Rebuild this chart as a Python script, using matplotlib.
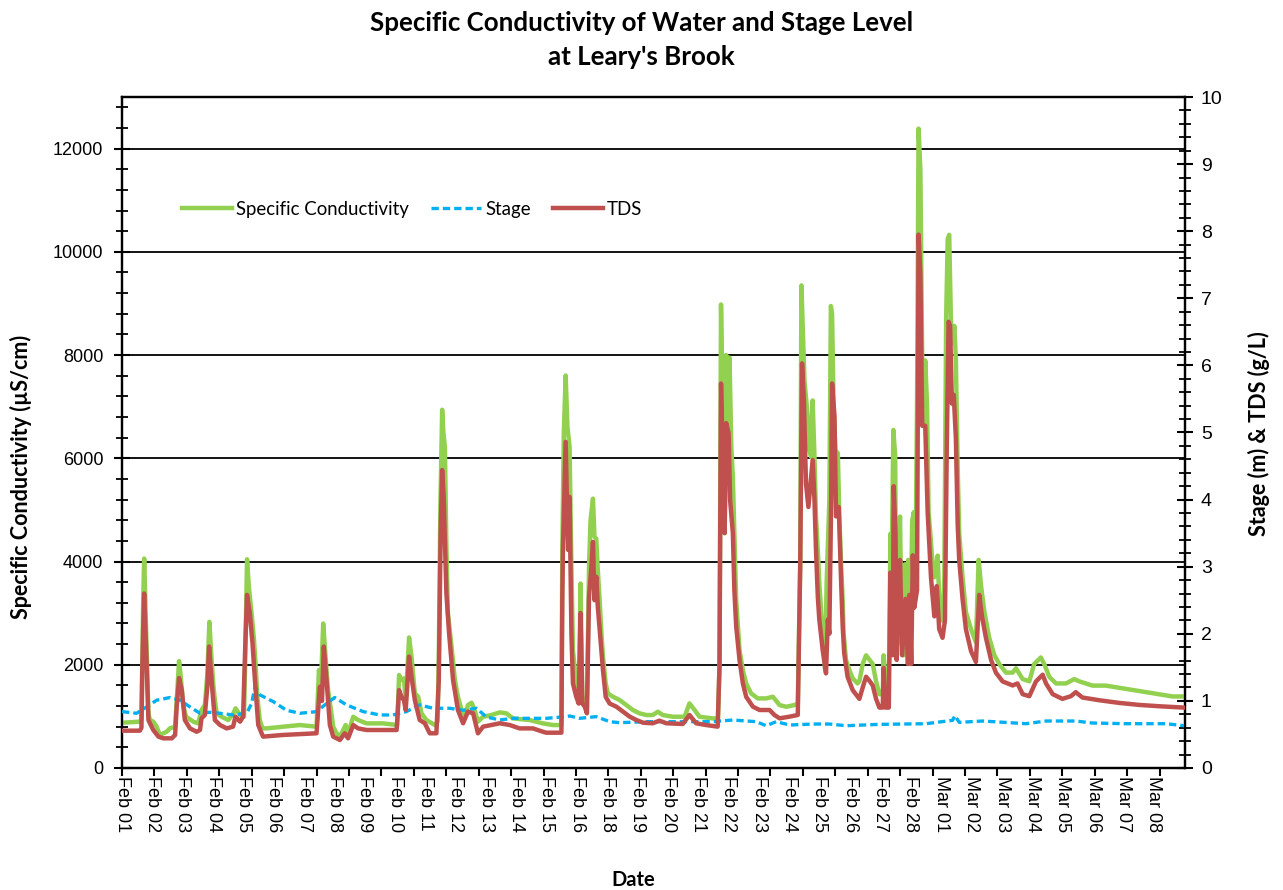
import matplotlib
matplotlib.use('Agg')
import matplotlib.pyplot as plt
from matplotlib.ticker import MultipleLocator, FixedLocator, NullFormatter

# x = position on the chart's date scale (0 = "Feb 01" label, 1 = next label, ...)
sc_day = [0, 0.59, 0.64, 0.70, 0.73, 0.77, 0.81, 0.87, 0.92, 1.03, 1.14, 1.25, 1.36, 1.47, 1.58,
          1.75, 1.80, 1.88, 1.93, 2.02, 2.11, 2.35, 2.51, 2.62, 2.73, 2.81, 2.88, 2.93, 3.01, 3.06,
          3.12, 3.28, 3.50, 3.67, 3.74, 3.89, 4.02, 4.07, 4.12, 4.18, 4.27, 4.35, 4.40, 4.46, 4.54,
          4.63, 4.77, 5.31, 5.86, 6.41, 6.49, 6.55, 6.63, 6.69, 6.79, 6.87, 6.96, 7.07, 7.18, 7.37,
          7.45, 7.62, 7.78, 8.06, 8.60, 9.07, 9.13, 9.21, 9.29, 9.35, 9.46, 9.54, 9.65, 9.76, 9.87,
          10.03, 10.31, 10.40, 10.44, 10.49, 10.55, 10.59, 10.64, 10.69, 10.74, 10.86, 10.97, 11.07,
          11.19, 11.29, 11.40, 11.52, 11.62, 11.73, 11.90, 12.17, 12.45, 12.67, 12.88, 13.43, 13.87,
          14.20, 14.48, 14.51, 14.56, 14.62, 14.68, 14.75, 14.81, 14.86, 14.97, 15.06, 15.11, 15.17,
          15.25, 15.32, 15.39, 15.44, 15.52, 15.57, 15.63, 15.68, 15.74, 15.80, 15.85, 15.94, 16.01,
          16.18, 16.40, 16.62, 16.84, 17.06, 17.28, 17.49, 17.66, 17.82, 18.15, 18.54, 18.70, 18.87,
          19.03, 19.47, 19.64, 19.69, 19.74, 19.81, 19.86, 19.91, 19.95, 20.02, 20.08, 20.13, 20.18,
          20.24, 20.35, 20.46, 20.57, 20.73, 20.95, 21.23, 21.45, 21.67, 21.89, 22.16, 22.27, 22.35,
          22.39, 22.43, 22.49, 22.60, 22.65, 22.71, 22.76, 22.82, 22.87, 22.93, 22.98, 23.09, 23.17,
          23.22, 23.31, 23.36, 23.40, 23.45, 23.51, 23.59, 23.64, 23.70, 23.75, 23.78, 23.86, 23.97,
          24.08, 24.24, 24.30, 24.41, 24.52, 24.63, 24.74, 24.85, 24.96, 25.07, 25.10, 25.16, 25.23,
          25.29, 25.32, 25.36, 25.42, 25.48, 25.51, 25.54, 25.58, 25.64, 25.69, 25.75, 25.81, 25.86,
          25.91, 25.97, 26.04, 26.09, 26.14, 26.20, 26.25, 26.31, 26.37, 26.42, 26.47, 26.53, 26.58,
          26.64, 26.69, 26.77, 26.83, 26.88, 26.93, 26.99, 27.04, 27.10, 27.16, 27.21, 27.26, 27.32,
          27.37, 27.43, 27.48, 27.54, 27.59, 27.70, 27.81, 27.98, 28.14, 28.23, 28.31, 28.42, 28.58,
          28.75, 28.91, 29.13, 29.35, 29.46, 29.68, 29.90, 30.06, 30.28, 30.39, 30.56, 30.78, 31.11,
          31.38, 31.54, 31.98, 32.42, 32.86, 33.30, 33.74, 34.18, 34.62, 35.00]
sc_val = [877, 897, 950, 3300, 4057, 3200, 2412, 1058, 929, 897, 800, 639, 671, 703, 768,
          800, 1300, 2070, 1800, 1200, 993, 897, 864, 1122, 1219, 1800, 2832, 2300, 1600, 1316,
          1058, 993, 929, 1058, 1155, 1026, 993, 2400, 4044, 3509, 2993, 2477, 2025, 1380, 929,
          768, 768, 800, 832, 800, 1896, 1500, 2799, 2300, 1500, 1187, 800, 671, 606, 832,
          671, 993, 929, 864, 864, 832, 1800, 1703, 1735, 1300, 2528, 2154, 1445, 1380, 1058,
          929, 832, 900, 2154, 5000, 6940, 6500, 6218, 4283, 2993, 2348, 1703, 1380,
          1122, 993, 1219, 1264, 1122, 897, 993, 1026, 1077, 1058, 961, 929, 864,
          832, 832, 4218, 6500, 7605, 6600, 6218, 3896, 2283, 1638, 1380, 3573, 1380,
          1251, 1122, 3896, 4799, 5218, 4476, 4444, 3831, 3251, 2606, 2154, 1638, 1445,
          1380, 1316, 1219, 1122, 1058, 1026, 1026, 1090, 1026, 993, 993, 1251, 1122,
          993, 961, 961, 2000, 8980, 6500, 4550, 8000, 6600, 7950, 6200, 5637, 4541,
          3251, 2283, 1896, 1638, 1445, 1348, 1348, 1380, 1219, 1186, 1219, 1251, 4000,
          9350, 8600, 7500, 6798, 6153, 6024, 7121, 6024, 4863, 4218, 3573, 2606, 1896,
          3573, 5186, 8950, 8800, 7000, 6153, 6100, 4863, 3896, 3251, 2606, 2090, 1896,
          1735, 1638, 1680, 2015, 2183, 2100, 2015, 1680, 1428, 1428, 2183, 1428, 1344,
          2267, 4535, 3695, 6550, 6047, 2855, 2183, 4115, 4871, 2435, 2183, 3947, 2183,
          4031, 2015, 4787, 4955, 3275, 7054, 12387, 11589, 7894, 6634, 7894, 7054, 4955,
          4535, 4115, 3695, 3863, 4115, 3275, 3023, 2855, 3695, 8734, 10246, 10330, 8566,
          8230, 8566, 7894, 5795, 4535, 3695, 3023, 2687, 2435, 4031, 3527, 3023, 2519,
          2183, 2015, 1848, 1848, 1932, 1722, 1680, 2015, 2141, 2015, 1764, 1638, 1638,
          1722, 1680, 1596, 1596, 1554, 1512, 1470, 1428, 1386, 1386]

tds_day = [0, 0.59, 0.64, 0.67, 0.70, 0.73, 0.77, 0.81, 0.87, 0.92, 1.03, 1.20, 1.36, 1.64, 1.75,
           1.80, 1.88, 1.97, 2.07, 2.24, 2.46, 2.57, 2.62, 2.73, 2.81, 2.87, 2.95, 3.06, 3.23, 3.45,
           3.66, 3.74, 3.89, 3.99, 4.06, 4.12, 4.21, 4.30, 4.38, 4.49, 4.60, 4.65, 5.30, 6.41, 6.52,
           6.59, 6.65, 6.74, 6.85, 6.96, 7.18, 7.34, 7.45, 7.62, 7.78, 8.06, 8.60, 9.05, 9.13, 9.21,
           9.29, 9.35, 9.46, 9.54, 9.65, 9.81, 9.98, 10.14, 10.36, 10.44, 10.50, 10.55, 10.60, 10.69,
           10.78, 10.91, 11.07, 11.24, 11.40, 11.57, 11.73, 11.90, 12.17, 12.45, 12.78, 13.10, 13.54,
           13.87, 13.98, 14.48, 14.51, 14.53, 14.62, 14.70, 14.75, 14.81, 14.86, 14.97, 15.05, 15.11,
           15.17, 15.25, 15.32, 15.39, 15.47, 15.52, 15.57, 15.63, 15.68, 15.76, 15.85, 15.94, 16.07,
           16.29, 16.51, 16.73, 16.95, 17.17, 17.49, 17.71, 17.94, 18.48, 18.70, 18.92, 19.25, 19.63,
           19.69, 19.74, 19.81, 19.86, 19.91, 19.99, 20.04, 20.13, 20.18, 20.24, 20.35, 20.46, 20.57,
           20.79, 21.01, 21.34, 21.50, 21.67, 22.00, 22.27, 22.35, 22.41, 22.47, 22.54, 22.62, 22.69,
           22.76, 22.82, 22.87, 22.93, 22.98, 23.09, 23.20, 23.26, 23.31, 23.37, 23.40, 23.48, 23.53,
           23.62, 23.70, 23.75, 23.80, 23.91, 24.08, 24.30, 24.41, 24.52, 24.63, 24.74, 24.85, 24.96,
           25.07, 25.10, 25.16, 25.27, 25.32, 25.40, 25.43, 25.49, 25.53, 25.58, 25.64, 25.71, 25.82,
           25.90, 25.95, 26.01, 26.06, 26.11, 26.20, 26.25, 26.31, 26.37, 26.47, 26.55, 26.66, 26.77,
           26.85, 26.93, 27.04, 27.12, 27.18, 27.24, 27.29, 27.35, 27.41, 27.48, 27.54, 27.59, 27.70,
           27.81, 27.98, 28.14, 28.25, 28.34, 28.47, 28.64, 28.80, 29.02, 29.35, 29.51, 29.68, 29.90,
           30.12, 30.34, 30.45, 30.67, 30.99, 31.27, 31.43, 31.65, 32.20, 32.86, 33.52, 34.18, 35.00]
tds_val = [0.556, 0.556, 0.60, 1.50, 2.11, 2.60, 2.10, 1.56, 0.715, 0.666, 0.566, 0.467, 0.442, 0.442, 0.492,
           0.90, 1.34, 1.16, 0.715, 0.59, 0.54, 0.566, 0.74, 0.79, 1.20, 1.81, 1.31, 0.715, 0.64, 0.59,
           0.616, 0.765, 0.69, 0.765, 1.80, 2.58, 2.31, 1.86, 1.31, 0.64, 0.517, 0.467, 0.492, 0.517, 1.21,
           1.00, 1.81, 1.31, 0.64, 0.467, 0.417, 0.517, 0.442, 0.64, 0.59, 0.566, 0.566, 0.566, 1.16, 1.06,
           1.01, 0.864, 1.66, 1.36, 1.01, 0.715, 0.666, 0.517, 0.517, 1.31, 3.50, 4.44, 4.04, 2.60,
           2.00, 1.31, 0.864, 0.666, 0.84, 0.815, 0.517, 0.616, 0.64, 0.666, 0.64, 0.59, 0.59,
           0.54, 0.526, 0.526, 2.50, 3.25, 4.86, 3.25, 4.04, 2.00, 1.26, 1.06, 0.96, 2.31,
           0.96, 0.914, 0.815, 2.55, 3.00, 3.37, 2.50, 2.85, 2.40, 1.96, 1.46, 1.06, 0.96,
           0.914, 0.84, 0.765, 0.715, 0.675, 0.666, 0.705, 0.666, 0.656, 0.79, 0.666, 0.64, 0.616,
           1.50, 5.73, 4.40, 3.50, 5.14, 4.99, 3.99, 3.50, 2.65, 2.11, 1.61, 1.26, 1.06,
           0.914, 0.864, 0.864, 0.79, 0.74, 0.765, 0.79, 3.00, 6.03, 5.50, 4.24, 3.89, 4.24,
           4.59, 3.99, 3.25, 2.55, 2.21, 1.76, 1.41, 2.21, 2.00, 3.99, 5.73, 5.24, 3.75,
           3.89, 2.75, 2.11, 1.71, 1.36, 1.16, 1.03, 1.20, 1.36, 1.30, 1.23, 1.03, 0.90,
           0.90, 1.49, 0.90, 0.90, 2.91, 1.68, 4.20, 3.49, 1.61, 2.65, 3.10, 1.68, 2.52,
           1.55, 2.58, 1.55, 3.17, 2.39, 2.65, 7.95, 7.36, 5.10, 5.10, 3.81, 2.84, 2.26,
           2.71, 2.07, 1.94, 2.20, 4.78, 6.65, 6.59, 5.43, 5.56, 4.91, 3.62, 3.10, 2.52,
           2.07, 1.74, 1.58, 2.58, 2.26, 1.94, 1.61, 1.42, 1.29, 1.23, 1.26, 1.10, 1.07,
           1.29, 1.39, 1.26, 1.10, 1.03, 1.07, 1.13, 1.05, 1.01, 0.97, 0.94, 0.92, 0.90]

stage_day = [0, 0.48, 0.81, 1.14, 1.58, 1.91, 2.24, 2.57, 2.90, 3.23, 3.66, 4.11, 4.27, 4.38, 4.54,
             4.98, 5.42, 5.86, 6.41, 6.74, 7.01, 7.40, 7.95, 8.50, 8.93, 9.37, 9.81, 10.25, 10.80,
             11.24, 11.68, 12.01, 12.45, 12.88, 13.98, 14.64, 14.75, 15.08, 15.63, 16.07, 16.40,
             17.28, 18.37, 19.47, 20.13, 20.90, 21.23, 21.56, 22.00, 22.76, 23.31, 23.86, 24.41,
             24.96, 26.50, 27.37, 27.45, 27.59, 28.36, 29.79, 30.45, 31.43, 31.98, 33.08, 34.40, 35.00]
stage_val = [0.84, 0.815, 0.91, 1.01, 1.05, 1.01, 0.91, 0.815, 0.83, 0.815, 0.79, 0.815, 0.96, 1.21, 1.09,
             0.99, 0.86, 0.815, 0.84, 0.96, 1.05, 0.94, 0.84, 0.79, 0.79, 0.84, 0.94, 0.89, 0.89,
             0.86, 0.89, 0.76, 0.715, 0.74, 0.74, 0.765, 0.775, 0.74, 0.765, 0.69, 0.675,
             0.69, 0.69, 0.69, 0.715, 0.69, 0.63, 0.69, 0.64, 0.655, 0.655, 0.63, 0.64,
             0.65, 0.66, 0.71, 0.78, 0.68, 0.70, 0.66, 0.70, 0.70, 0.67, 0.66, 0.66, 0.63]

date_labels = ['Feb 01', 'Feb 02', 'Feb 03', 'Feb 04', 'Feb 05', 'Feb 06', 'Feb 07', 'Feb 08',
               'Feb 09', 'Feb 10', 'Feb 11', 'Feb 12', 'Feb 13', 'Feb 14', 'Feb 15', 'Feb 16',
               'Feb 18', 'Feb 19', 'Feb 20', 'Feb 21', 'Feb 22', 'Feb 23', 'Feb 24', 'Feb 25',
               'Feb 26', 'Feb 27', 'Feb 28', 'Mar 01', 'Mar 02', 'Mar 03', 'Mar 04', 'Mar 05',
               'Mar 06', 'Mar 07', 'Mar 08']

GREEN = '#92D050'
RED = '#C0504D'
BLUE = '#00B0F0'
narrow = ['Lato', 'DejaVu Sans']
arial = ['Liberation Sans', 'DejaVu Sans']

fig = plt.figure(figsize=(12.83, 8.9), dpi=100)
ax1 = fig.add_axes([0.0951, 0.1371, 0.8285, 0.7539])
ax2 = ax1.twinx()

l1, = ax1.plot(sc_day, sc_val, color=GREEN, lw=3.2, solid_joinstyle='round',
               label='Specific Conductivity', zorder=3)
l2, = ax2.plot(stage_day, stage_val, color=BLUE, lw=2.4, dashes=(2.2, 1.2),
               label='Stage', zorder=3)
l3, = ax2.plot(tds_day, tds_val, color=RED, lw=3.2, solid_joinstyle='round',
               label='TDS', zorder=4)

# axes limits / ticks
ax1.set_xlim(0, 35.03)
ax1.set_ylim(0, 13000)
ax2.set_ylim(0, 10)

ax1.yaxis.set_major_locator(FixedLocator(range(0, 13000, 2000)))
ax1.yaxis.set_minor_locator(MultipleLocator(400))
ax2.yaxis.set_major_locator(MultipleLocator(1))
ax2.yaxis.set_minor_locator(MultipleLocator(0.2))

# tick marks and date labels sit on different spacings (as in the original)
tick_pos = [k * 1.0685 for k in range(33)]
ax1.xaxis.remove_overlapping_locs = False
ax1.xaxis.set_major_locator(FixedLocator(tick_pos))
ax1.xaxis.set_major_formatter(NullFormatter())
ax1.set_xticks(range(len(date_labels)), date_labels, minor=True)
ax1.tick_params(axis='x', which='major', direction='out', length=6, width=1.5)
ax1.tick_params(axis='x', which='minor', length=0, pad=6, labelsize=13, labelrotation=-90)
for t in ax1.get_xticklabels(minor=True):
    t.set_family(arial)

ax1.tick_params(axis='y', which='major', direction='inout', length=11, width=1.5,
                labelsize=13, pad=8)
ax1.tick_params(axis='y', which='minor', direction='inout', length=9, width=1.3)
ax2.tick_params(axis='y', which='major', direction='inout', length=11, width=1.5,
                labelsize=14, pad=6)
ax2.tick_params(axis='y', which='minor', direction='inout', length=9, width=1.3)
for t in ax1.get_yticklabels() + ax2.get_yticklabels():
    t.set_family(arial)

ax1.grid(axis='y', which='major', color='black', lw=1.3)
ax1.set_axisbelow(True)
for ax in (ax1, ax2):
    for s in ax.spines.values():
        s.set_linewidth(1.6)

fig.text(0.0164, 0.4646, 'Specific Conductivity (µS/cm)', family=narrow, fontweight='bold',
         fontsize=15.5, rotation=90, ha='center', va='center')
fig.text(0.9813, 0.5124, 'Stage (m) & TDS (g/L)', family=narrow, fontweight='bold',
         fontsize=15.5, rotation=90, ha='center', va='center')
fig.text(0.4935, 0.0112, 'Date', family=narrow, fontweight='bold', fontsize=14.5,
         ha='center', va='center')

fig.text(0.5, 0.974, "Specific Conductivity of Water and Stage Level", family=narrow,
         fontweight='bold', fontsize=18.6, ha='center', va='center')
fig.text(0.5, 0.936, "at Leary's Brook", family=narrow,
         fontweight='bold', fontsize=18.6, ha='center', va='center')

leg = ax2.legend(handles=[l1, l2, l3], loc='center left', bbox_to_anchor=(0.056, 0.833),
                 ncol=3, frameon=False, handlelength=2.7, handletextpad=0.22,
                 columnspacing=1.18, borderaxespad=0, borderpad=0,
                 prop={'family': narrow, 'size': 13.4})

fig.savefig('out.png', dpi=100)
